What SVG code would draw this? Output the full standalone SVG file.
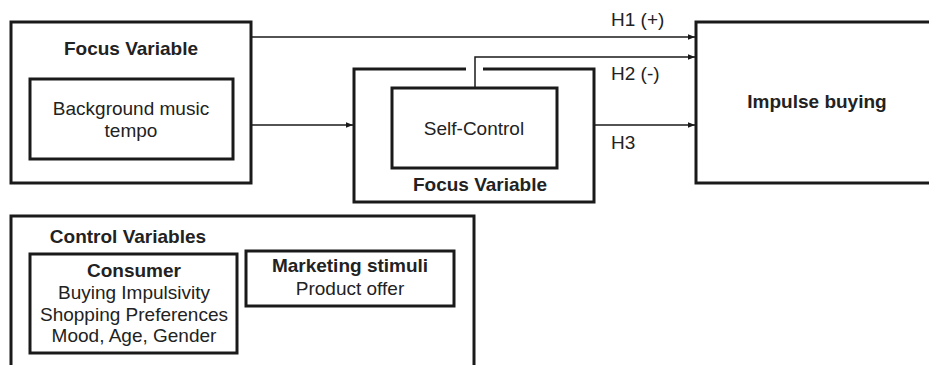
<svg xmlns="http://www.w3.org/2000/svg" width="929" height="365" viewBox="0 0 929 365">
<defs>
<marker id="ah" viewBox="0 0 10 10" refX="10" refY="5" markerWidth="7" markerHeight="7" markerUnits="userSpaceOnUse" orient="auto">
<path d="M0,1 L10,5 L0,9 Z" fill="#1a1a1a"/>
</marker>
<style>
.box{fill:#fff;stroke:#1a1a1a;stroke-width:3}
.conn{fill:none;stroke:#1a1a1a;stroke-width:1.5}
text{font-family:"Liberation Sans",Arial,sans-serif;font-size:19px;fill:#222}
.b{font-weight:bold}
.c{text-anchor:middle}
</style>
</defs>
<rect width="929" height="365" fill="#fff"/>
<g id="focus-left">
<rect class="box" x="11" y="22" width="240" height="161"/>
<text class="b c" x="131" y="55">Focus Variable</text>
</g>
<g id="background-music">
<rect class="box" x="30" y="79" width="203" height="80"/>
<text class="c" x="131" y="115">Background music</text>
<text class="c" x="131" y="137">tempo</text>
</g>
<g id="focus-middle">
<path class="box" d="M466,69 H354 V202 H594 V69 H483"/>
<text class="b c" x="480" y="191">Focus Variable</text>
</g>
<g id="self-control">
<rect class="box" x="392" y="88" width="165" height="80"/>
<text class="c" x="474" y="135">Self-Control</text>
</g>
<g id="impulse-buying">
<rect class="box" x="696" y="22" width="240" height="161"/>
<text class="b c" x="817" y="108">Impulse buying</text>
</g>
<g id="control-variables">
<rect class="box" x="11" y="216" width="463" height="160"/>
<text class="b c" x="128" y="243">Control Variables</text>
</g>
<g id="consumer">
<rect class="box" x="30" y="254" width="207" height="99"/>
<text class="b c" x="134" y="277">Consumer</text>
<text class="c" x="134" y="299">Buying Impulsivity</text>
<text class="c" x="134" y="321">Shopping Preferences</text>
<text class="c" x="134" y="342">Mood, Age, Gender</text>
</g>
<g id="marketing-stimuli">
<rect class="box" x="246" y="251" width="208" height="55"/>
<text class="b c" x="350" y="272">Marketing stimuli</text>
<text class="c" x="350" y="295">Product offer</text>
</g>
<g id="connectors">
<path class="conn" d="M252,37 H695" marker-end="url(#ah)"/>
<path class="conn" d="M475,87 V57 H695" marker-end="url(#ah)"/>
<path class="conn" d="M252,125 H353" marker-end="url(#ah)"/>
<path class="conn" d="M595,125 H695" marker-end="url(#ah)"/>
<text x="611" y="26">H1 (+)</text>
<text x="611" y="80">H2 (-)</text>
<text x="611" y="149">H3</text>
</g>
</svg>
